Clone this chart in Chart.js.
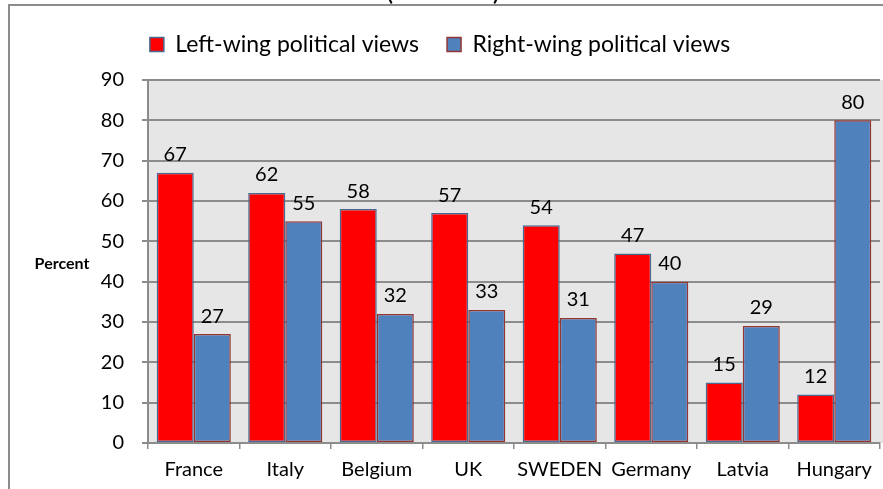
<!DOCTYPE html>
<html>
<head>
<meta charset="utf-8">
<script src="https://cdn.jsdelivr.net/npm/chart.js@4.4.1/dist/chart.umd.min.js"></script>
<style>
  html, body { margin: 0; padding: 0; background: #fff; }
  #wrap { width: 883px; height: 489px; }
</style>
</head>
<body>
<div id="wrap"><canvas id="grafico"></canvas></div>
<script>
// datos
const paises = ["France", "Italy", "Belgium", "UK", "SWEDEN", "Germany", "Latvia", "Hungary"];
const izquierda = [67, 62, 58, 57, 54, 47, 15, 12];
const derecha = [27, 55, 32, 33, 31, 40, 29, 80];
const ticksY = [0, 10, 20, 30, 40, 50, 60, 70, 80, 90];
const titulo = "(n=3.384)";

const fuente = "Lato, 'Open Sans', sans-serif";

// fondo gris del área de trazado, marco exterior y textos extra
const extras = {
    id: "extras",
    beforeDraw(chart) {
        const ctx = chart.ctx;
        const a = chart.chartArea;
        ctx.save();
        ctx.fillStyle = "#e6e6e6";
        ctx.fillRect(a.left, a.top, a.right - a.left + 3, a.bottom - a.top);
        // marco
        ctx.strokeStyle = "#8c8c8c";
        ctx.lineWidth = 2;
        ctx.beginPath();
        ctx.moveTo(9, 489);
        ctx.lineTo(9, 5);
        ctx.lineTo(883, 5);
        ctx.stroke();
        // título cortado arriba
        ctx.fillStyle = "#000";
        ctx.font = "27px " + fuente;
        ctx.textAlign = "center";
        ctx.textBaseline = "alphabetic";
        ctx.fillText(titulo, 443, 0);
        // etiqueta Percent
        ctx.font = "bold 16px " + fuente;
        ctx.textBaseline = "middle";
        ctx.fillText("Percent", 62, 264);
        ctx.restore();
    },
    afterDatasetsDraw(chart) {
        const ctx = chart.ctx;
        ctx.save();
        ctx.fillStyle = "#000";
        ctx.font = "20px " + fuente;
        ctx.textAlign = "center";
        ctx.textBaseline = "bottom";
        chart.data.datasets.forEach((ds, i) => {
            chart.getDatasetMeta(i).data.forEach((bar, j) => {
                ctx.fillText(String(ds.data[j]), bar.x, bar.y - 8);
            });
        });
        ctx.restore();
    }
};

// alto fijo de la leyenda para que el área empiece en y=80
const ajusteLeyenda = {
    id: "ajusteLeyenda",
    beforeInit(chart) {
        const fitOrig = chart.legend.fit;
        chart.legend.fit = function () {
            fitOrig.call(this);
            this.height = 75;
        };
    }
};

new Chart(document.getElementById("grafico"), {
    type: "bar",
    data: {
        labels: paises,
        datasets: [
            {
                label: "Left-wing political views",
                data: izquierda,
                backgroundColor: "#ff0000",
                borderColor: "#4a6990",
                borderWidth: 1.5,
                borderSkipped: false
            },
            {
                label: "Right-wing political views",
                data: derecha,
                backgroundColor: "#4f81bd",
                borderColor: "#943634",
                borderWidth: 1.5,
                borderSkipped: false
            }
        ]
    },
    options: {
        responsive: true,
        maintainAspectRatio: false,
        animation: false,
        layout: { padding: { top: 5, right: 3, bottom: 0, left: 0 } },
        categoryPercentage: 0.81,
        barPercentage: 1.0,
        plugins: {
            legend: {
                position: "top",
                labels: {
                    color: "#000",
                    font: { family: fuente, size: 23 },
                    boxWidth: 14,
                    boxHeight: 14,
                    padding: 28
                }
            },
            tooltip: { enabled: false }
        },
        scales: {
            x: {
                afterFit(scale) { scale.height = 46; },
                grid: {
                    offset: true,
                    drawOnChartArea: false,
                    drawTicks: true,
                    tickLength: 6,
                    color: "#8c8c8c",
                    lineWidth: 1.5
                },
                border: { color: "#8c8c8c", width: 1.5 },
                ticks: {
                    color: "#000",
                    font: { family: fuente, size: 20 },
                    padding: 9
                }
            },
            y: {
                min: 0,
                max: 90,
                afterFit(scale) { scale.width = 148; },
                afterBuildTicks(scale) { scale.ticks = ticksY.map(v => ({ value: v })); },
                grid: {
                    color: "#8c8c8c",
                    lineWidth: 2,
                    drawTicks: true,
                    tickLength: 6
                },
                border: { color: "#8c8c8c", width: 2 },
                ticks: {
                    color: "#000",
                    font: { family: fuente, size: 20 },
                    padding: 18
                }
            }
        }
    },
    plugins: [extras, ajusteLeyenda]
});
</script>
</body>
</html>
